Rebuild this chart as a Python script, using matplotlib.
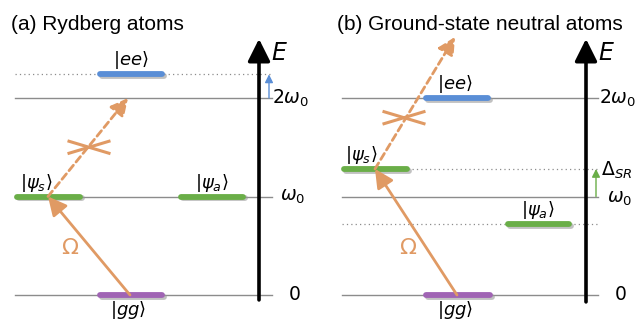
import matplotlib
matplotlib.use("Agg")
import matplotlib.pyplot as plt
import matplotlib.patheffects as pe

plt.rcParams['font.family'] = ['Liberation Sans', 'DejaVu Sans']
plt.rcParams['mathtext.fontset'] = 'dejavusans'

# energy levels in units of omega_0
levels = [0, 1, 2]
level_labels = [r'$0$', r'$\omega_0$', r'$2\omega_0$']

# panel (a): Rydberg atoms
ee_a = 2.24
psi_s_a = 1.0
psi_a_a = 1.0
# panel (b): ground-state neutral atoms
ee_b = 2.0
psi_s_b = 1.28
psi_a_b = 0.72

titles = ['(a) Rydberg atoms', '(b) Ground-state neutral atoms']

ORANGE = '#E09A64'
BLUE = '#5A8ED6'
GREEN = '#6AAE48'
PURPLE = '#A064B4'
GRAY = '#8C8C8C'

# pixel -> energy mapping: y_px = 295 - 98.5 * E
fig = plt.figure(figsize=(6.39, 3.2), dpi=100)
ax = fig.add_axes([0, 0, 1, 1])
ax.set_xlim(0, 639)
ax.set_ylim(-25 / 98.5, 295 / 98.5)
ax.axis('off')
px = 1 / 98.5  # one pixel in energy units

shadow = [pe.SimpleLineShadow(offset=(1.2, -1.2), shadow_color='#999999', alpha=0.6), pe.Normal()]
LAB = 13


def bar(x0, x1, e, color):
    ax.plot([x0, x1], [e, e], color=color, lw=4.2, solid_capstyle='round',
            path_effects=shadow, zorder=4)


def arrow(x0, e0, x1, e1, color, ls='-', lw=2.0, hl=0.8, hw=0.4, ms=14):
    ax.annotate('', xy=(x1, e1), xytext=(x0, e0),
                arrowprops=dict(arrowstyle=f'-|>,head_length={hl},head_width={hw}',
                                color=color, lw=lw, linestyle=ls,
                                shrinkA=0, shrinkB=0, mutation_scale=ms),
                zorder=5)


def cross(xc, ec):
    for s in (1, -1):
        ax.plot([xc - 20, xc + 20], [ec - s * 6 * px, ec + s * 6 * px],
                color=ORANGE, lw=2.2, zorder=5)


# ---------------- panel (a) ----------------
x_l, x_r = 15, 272
for e in levels:
    ax.plot([x_l, x_r], [e, e], color=GRAY, lw=1.0, zorder=1)
ax.plot([x_l, x_r], [ee_a, ee_a], color=GRAY, lw=0.9, ls=(0, (1, 2.5)), zorder=1)
arrow(259, -0.05, 259, 2.6, 'black', lw=2.6, hl=0.9, hw=0.45, ms=15)
ax.text(271, 2.45, r'$E$', fontsize=17, va='center', ha='left')
ax.text(272, 2.0, level_labels[2], fontsize=13.5, va='center', ha='left')
ax.text(280, 1.0, level_labels[1], fontsize=13.5, va='center', ha='left')
ax.text(288, 0.0, level_labels[0], fontsize=13.5, va='center', ha='left')
arrow(269, 2.0, 269, ee_a, BLUE, lw=1.0, hl=0.6, hw=0.3, ms=8)

bar(100, 162, ee_a, BLUE)
bar(17, 80, psi_s_a, GREEN)
bar(181, 243, psi_a_a, GREEN)
bar(100, 162, 0, PURPLE)
ax.text(131, ee_a + 3 * px, r'$|ee\rangle$', fontsize=LAB, ha='center', va='bottom')
ax.text(36, psi_s_a + 3 * px, r'$|\psi_s\rangle$', fontsize=LAB, ha='center', va='bottom')
ax.text(212, psi_a_a + 3 * px, r'$|\psi_a\rangle$', fontsize=LAB, ha='center', va='bottom')
ax.text(128, -4 * px, r'$|gg\rangle$', fontsize=LAB, ha='center', va='top')

arrow(130, 0, 48, psi_s_a, ORANGE, lw=2.0)
arrow(48, psi_s_a, 128, 2.0, ORANGE, ls=(0, (2.5, 1.5)), lw=2.0, hl=0.75, hw=0.38)
cross(89, (psi_s_a + 2.0) / 2)
ax.text(70, 0.47, r'$\Omega$', fontsize=16, color=ORANGE, ha='center', va='center')
ax.text(11, 2.75, titles[0], fontsize=15, va='center', ha='left')

# ---------------- panel (b) ----------------
x_l, x_r = 342, 598
for e in levels:
    ax.plot([x_l, x_r], [e, e], color=GRAY, lw=1.0, zorder=1)
for e in (psi_s_b, psi_a_b):
    ax.plot([x_l, 600], [e, e], color=GRAY, lw=0.9, ls=(0, (1, 2.5)), zorder=1)
arrow(586, -0.07, 586, 2.6, 'black', lw=2.6, hl=0.9, hw=0.45, ms=15)
ax.text(598, 2.45, r'$E$', fontsize=17, va='center', ha='left')
ax.text(599, 2.0, level_labels[2], fontsize=13.5, va='center', ha='left')
ax.text(607, 0.98, level_labels[1], fontsize=13.5, va='center', ha='left')
ax.text(614, 0.0, level_labels[0], fontsize=13.5, va='center', ha='left')
ax.text(601, 1.27, r'$\Delta_{SR}$', fontsize=13.5, va='center', ha='left')
arrow(596, 1.0, 596, psi_s_b, GREEN, lw=1.0, hl=0.6, hw=0.3, ms=8)

bar(426, 488, ee_b, BLUE)
bar(344, 407, psi_s_b, GREEN)
bar(508, 569, psi_a_b, GREEN)
bar(426, 490, 0, PURPLE)
ax.text(455, ee_b + 3 * px, r'$|ee\rangle$', fontsize=LAB, ha='center', va='bottom')
ax.text(361, psi_s_b + 3 * px, r'$|\psi_s\rangle$', fontsize=LAB, ha='center', va='bottom')
ax.text(538, psi_a_b + 3 * px, r'$|\psi_a\rangle$', fontsize=LAB, ha='center', va='bottom')
ax.text(455, -4 * px, r'$|gg\rangle$', fontsize=LAB, ha='center', va='top')

arrow(457, 0, 375, psi_s_b, ORANGE, lw=2.0)
arrow(375, psi_s_b, 455, 2.62, ORANGE, ls=(0, (2.5, 1.5)), lw=2.0, hl=0.75, hw=0.38)
cross(404, 1.8)
ax.text(408, 0.47, r'$\Omega$', fontsize=16, color=ORANGE, ha='center', va='center')
ax.text(337, 2.75, titles[1], fontsize=15, va='center', ha='left')

fig.savefig('out.png', dpi=100)
